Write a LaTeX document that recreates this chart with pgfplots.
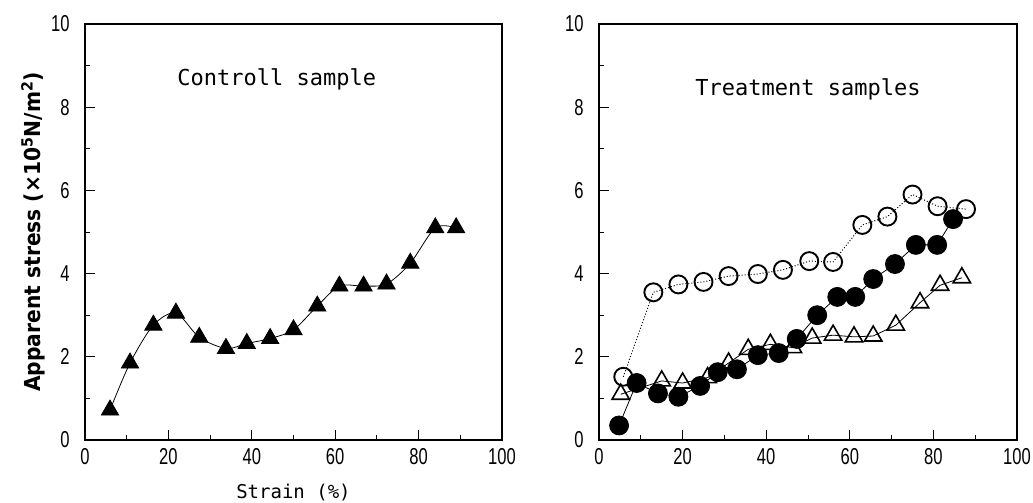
\documentclass[border=0pt]{standalone}
\usepackage{fontspec}
\setmainfont{DejaVu Sans}
\newfontfamily\monofont{DejaVu Sans Mono}
\newfontfamily\tickfont[FakeStretch=0.72]{Liberation Sans}
\newfontfamily\labfont[FakeStretch=0.92]{DejaVu Sans}
\usepackage{pgfplots}
\pgfplotsset{compat=1.18}

\pgfplotstableread{
x y
6.0 0.72
10.8 1.85
16.4 2.76
21.8 3.05
27.4 2.47
33.8 2.20
38.8 2.32
44.4 2.44
50.0 2.65
55.7 3.22
61.0 3.70
66.8 3.70
72.3 3.75
78.0 4.25
84.0 5.10
89.0 5.10
}\control

\pgfplotstableread{
x y
5.8 1.52
13.0 3.55
19.0 3.74
25.0 3.80
31.0 3.94
38.0 3.99
44.0 4.09
50.3 4.30
56.0 4.28
63.0 5.17
69.0 5.37
75.0 5.90
81.0 5.62
87.8 5.55
}\opencirc

\pgfplotstableread{
x y
4.8 0.35
9.0 1.37
14.1 1.12
19.0 1.04
24.2 1.30
28.4 1.63
33.0 1.70
38.0 2.04
43.0 2.09
47.3 2.43
52.2 3.00
57.0 3.44
61.3 3.44
65.6 3.87
70.8 4.23
75.8 4.69
80.9 4.69
84.7 5.31
}\fillcirc

\pgfplotstableread{
x y
5.2 1.10
15.0 1.42
20.0 1.37
26.0 1.50
31.0 1.85
35.7 2.18
41.0 2.30
46.4 2.22
51.0 2.45
56.0 2.52
61.0 2.48
65.6 2.50
71.0 2.76
76.8 3.30
81.6 3.72
86.8 3.90
}\opentri

\pgfplotsset{
  panel/.style={
    scale only axis, width=417pt, height=416pt,
    xmin=0, xmax=100, ymin=0, ymax=10,
    xtick={0,20,...,100}, ytick={0,2,...,10},
    minor x tick num=1, minor y tick num=1,
    tick align=inside, tick pos=left,
    major tick length=10pt, minor tick length=5pt,
    axis line style={line width=1.5pt},
    every tick/.style={black, line width=1pt},
    /pgf/number format/assume math mode=true,
    ticklabel style={font=\tickfont\fontsize{23}{23}\selectfont},
    xticklabel style={yshift=-5pt},
    yticklabel style={xshift=-12pt},
  }
}

\begin{document}
\begin{tikzpicture}
\useasboundingbox (0,0) rectangle (1033pt,-503pt);
\begin{axis}[panel, at={(85pt,-440pt)}, anchor=south west,
  xlabel={Strain (\%)},
  xlabel style={font=\monofont\fontsize{19}{19}\selectfont,
    at={(axis description cs:0.5,0)}, anchor=center, yshift=-53pt},
  ylabel={\bfseries Apparent stress (×10\textsuperscript{5}N/m\textsuperscript{2})},
  ylabel style={font=\labfont\fontsize{22}{22}\selectfont,
    at={(axis description cs:-0.125,0.5)}, anchor=center},
]
\addplot[black, line width=0.8pt, smooth, tension=0.5,
  mark=triangle*, mark size=10pt, mark options={solid, fill=black}]
  table[x=x, y=y] {\control};
\node[font=\monofont\fontsize{22}{22}\selectfont] at (axis cs:46,8.68) {Controll sample};
\end{axis}

\begin{axis}[panel, at={(599pt,-440pt)}, anchor=south west, width=418pt]
\addplot[black, line width=0.8pt,
  mark=triangle, mark size=10pt, mark options={solid, line width=1.6pt, fill=none}]
  table[x=x, y=y] {\opentri};
\addplot[black, line width=0.8pt,
  mark=*, mark size=9.5pt, mark options={solid, fill=black}]
  table[x=x, y=y] {\fillcirc};
\addplot[black, line width=1pt, dotted,
  mark=o, mark size=9pt, mark options={solid, line width=1.9pt}]
  table[x=x, y=y] {\opencirc};
\node[font=\monofont\fontsize{22}{22}\selectfont] at (axis cs:50,8.44) {Treatment samples};
\end{axis}
\end{tikzpicture}
\end{document}
